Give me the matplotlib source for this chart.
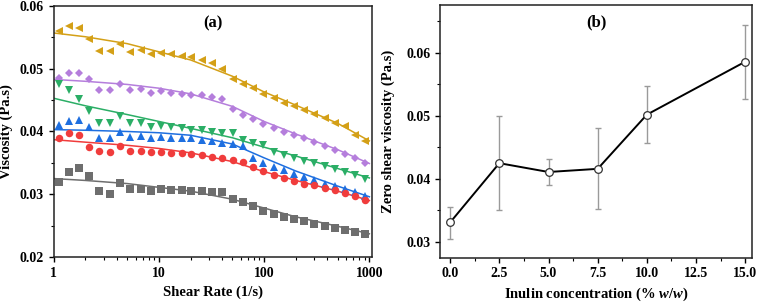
import matplotlib
matplotlib.use("Agg")
import matplotlib.pyplot as plt
from matplotlib.ticker import MultipleLocator, LogLocator, NullFormatter, FixedLocator

plt.rcParams['font.family'] = ['Liberation Serif', 'DejaVu Serif']
plt.rcParams['font.weight'] = 'bold'
plt.rcParams['mathtext.fontset'] = 'custom'
plt.rcParams['mathtext.it'] = 'Liberation Serif:italic:bold'
plt.rcParams['mathtext.rm'] = 'Liberation Serif:bold'

# ---------------- Panel (a) data ----------------
shear_rate = [1.12, 1.41, 1.75, 2.18, 2.72, 3.44, 4.28, 5.37, 6.75, 8.39,
              10.5, 13.1, 16.4, 20.4, 25.5, 32.0, 40.1, 50.7, 63.1, 78.5,
              98.4, 123, 154, 191, 240, 301, 375, 468, 586, 730, 916]

visc_gold = [0.0560, 0.0568, 0.0565, 0.0547, 0.0528, 0.0528, 0.0539, 0.0527, 0.0530, 0.0524,
             0.0525, 0.0524, 0.0520, 0.0518, 0.0514, 0.0509, 0.0499, 0.0484, 0.0476, 0.0469,
             0.0460, 0.0454, 0.0445, 0.0440, 0.0434, 0.0428, 0.0422, 0.0413, 0.0409, 0.0395, 0.0385]
visc_purple = [0.0486, 0.0493, 0.0494, 0.0483, 0.0466, 0.0466, 0.0475, 0.0466, 0.0467, 0.0461,
               0.0464, 0.0462, 0.0460, 0.0458, 0.0458, 0.0455, 0.0452, 0.0436, 0.0427, 0.0420,
               0.0412, 0.0406, 0.0399, 0.0394, 0.0389, 0.0383, 0.0377, 0.0371, 0.0364, 0.0358, 0.0350]
visc_green = [0.0475, 0.0466, 0.0452, 0.0432, 0.0413, 0.0413, 0.0424, 0.0414, 0.0414, 0.0407,
              0.0409, 0.0407, 0.0405, 0.0403, 0.0402, 0.0399, 0.0398, 0.0397, 0.0386, 0.0381,
              0.0378, 0.0367, 0.0362, 0.0357, 0.0353, 0.0349, 0.0345, 0.0340, 0.0336, 0.0331, 0.0325]
visc_blue = [0.0411, 0.0417, 0.0418, 0.0407, 0.0390, 0.0389, 0.0399, 0.0391, 0.0393, 0.0390,
             0.0391, 0.0390, 0.0389, 0.0389, 0.0387, 0.0385, 0.0381, 0.0380, 0.0377, 0.0357,
             0.0350, 0.0344, 0.0338, 0.0333, 0.0327, 0.0322, 0.0317, 0.0313, 0.0309, 0.0303, 0.0297]
visc_red = [0.0390, 0.0397, 0.0395, 0.0375, 0.0369, 0.0367, 0.0377, 0.0369, 0.0369, 0.0367,
            0.0368, 0.0366, 0.0365, 0.0364, 0.0363, 0.0360, 0.0357, 0.0354, 0.0352, 0.0344,
            0.0337, 0.0331, 0.0326, 0.0321, 0.0317, 0.0314, 0.0310, 0.0306, 0.0302, 0.0297, 0.0291]
visc_gray = [0.0320, 0.0336, 0.0342, 0.0329, 0.0305, 0.0301, 0.0318, 0.0309, 0.0309, 0.0305,
             0.0308, 0.0307, 0.0306, 0.0305, 0.0305, 0.0304, 0.0303, 0.0292, 0.0287, 0.0281,
             0.0274, 0.0269, 0.0264, 0.0261, 0.0257, 0.0253, 0.0250, 0.0247, 0.0243, 0.0240, 0.0236]

# fitted model curves
fit_x = [1, 2, 5, 10, 20, 50, 100, 200, 500, 1000]
fit_gold = [0.0557, 0.0551, 0.0540, 0.0527, 0.0514, 0.0488, 0.0463, 0.0442, 0.0413, 0.0385]
fit_purple = [0.0483, 0.0480, 0.0475, 0.0469, 0.0460, 0.0440, 0.0416, 0.0396, 0.0371, 0.0349]
fit_green = [0.0453, 0.0441, 0.0427, 0.0416, 0.0405, 0.0390, 0.0375, 0.0361, 0.0341, 0.0326]
fit_blue = [0.0403, 0.0402, 0.0400, 0.0398, 0.0394, 0.0380, 0.0358, 0.0337, 0.0313, 0.0296]
fit_red = [0.0387, 0.0383, 0.0378, 0.0373, 0.0366, 0.0352, 0.0336, 0.0322, 0.0305, 0.0290]
fit_gray = [0.0325, 0.0322, 0.0317, 0.0311, 0.0305, 0.0292, 0.0278, 0.0264, 0.0249, 0.0237]

# ---------------- Panel (b) data ----------------
inulin = [0.0, 2.5, 5.0, 7.5, 10.0, 15.0]
zero_visc = [0.0331, 0.0425, 0.0411, 0.0416, 0.0502, 0.0586]
err_low = [0.0026, 0.0075, 0.0020, 0.0063, 0.0045, 0.0059]
err_high = [0.0024, 0.0075, 0.0020, 0.0065, 0.0045, 0.0059]

fig = plt.figure(figsize=(7.58, 3.04), dpi=100)
ax1 = fig.add_axes([0.0708, 0.1546, 0.4200, 0.8257])
ax2 = fig.add_axes([0.5809, 0.1523, 0.4108, 0.8313])

series = [
    (visc_gold, fit_gold, '#D4A017', '<'),
    (visc_purple, fit_purple, '#B57EDC', 'D'),
    (visc_green, fit_green, '#2BAE66', 'v'),
    (visc_blue, fit_blue, '#1E6FE0', '^'),
    (visc_red, fit_red, '#F03C3C', 'o'),
    (visc_gray, fit_gray, '#6E6E6E', 's'),
]
for vals, fit, col, mk in series:
    ax1.plot(fit_x, fit, color=col, lw=1.1, zorder=2)
    ms = 4.4 if mk == 'D' else 5.4
    ax1.plot(shear_rate, vals, linestyle='none', marker=mk, color=col,
             markersize=ms, markeredgewidth=0, zorder=3)

ax1.set_xscale('log')
ax1.set_xlim(1, 1060)
ax1.set_ylim(0.02, 0.06)
ax1.xaxis.set_major_locator(FixedLocator([1, 10, 100, 1000]))
ax1.set_xticklabels(['1', '10', '100', '1000'])
ax1.xaxis.set_minor_locator(LogLocator(base=10, subs=range(2, 10)))
ax1.xaxis.set_minor_formatter(NullFormatter())
ax1.set_yticks([0.02, 0.03, 0.04, 0.05, 0.06])
ax1.set_yticklabels(['0.02', '0.03', '0.04', '0.05', '0.06'])
ax1.yaxis.set_minor_locator(MultipleLocator(0.005))
ax1.set_xlabel('Shear Rate (1/s)', fontsize=10.5, fontweight='bold', labelpad=4)
ax1.set_ylabel('Viscosity (Pa.s)', fontsize=10.5, fontweight='bold')
ax1.yaxis.set_label_coords(-0.128, 0.5)
ax1.text(0.5, 0.93, '(a)', transform=ax1.transAxes, ha='center', va='center',
         fontsize=12, fontweight='bold')

ax2.errorbar(inulin, zero_visc, yerr=[err_low, err_high], fmt='none',
             ecolor='#9A9A9A', elinewidth=1.0, capsize=2.5, capthick=1.0, zorder=2)
ax2.plot(inulin, zero_visc, color='black', lw=1.4, marker='o', markersize=5.5,
         markerfacecolor='white', markeredgecolor='#333333', markeredgewidth=0.9, zorder=3)
ax2.set_xlim(-0.5, 15.33)
ax2.set_ylim(0.0275, 0.0676)
ax2.set_xticks([0, 2.5, 5, 7.5, 10, 12.5, 15])
ax2.set_xticklabels(['0.0', '2.5', '5.0', '7.5', '10.0', '12.5', '15.0'])
ax2.xaxis.set_minor_locator(MultipleLocator(1.25))
ax2.set_yticks([0.03, 0.04, 0.05, 0.06])
ax2.set_yticklabels(['0.03', '0.04', '0.05', '0.06'])
ax2.yaxis.set_minor_locator(MultipleLocator(0.005))
ax2.set_xlabel('Inulin concentration (% $\\mathit{w/w}$)', fontsize=10.5,
               fontweight='bold', labelpad=4)
ax2.set_ylabel('Zero shear viscosity (Pa.s)', fontsize=10.5, fontweight='bold', labelpad=8)
ax2.text(0.5, 0.93, '(b)', transform=ax2.transAxes, ha='center', va='center',
         fontsize=12, fontweight='bold')

for ax in (ax1, ax2):
    for s in ax.spines.values():
        s.set_linewidth(1.1)
        s.set_color('#222222')
    ax.tick_params(which='major', direction='out', length=3.5, width=1.0,
                   labelsize=10, top=False, right=False)
    ax.tick_params(which='minor', direction='out', length=2, width=0.8,
                   top=False, right=False)
    for lab in ax.get_xticklabels() + ax.get_yticklabels():
        lab.set_fontweight('bold')

fig.savefig('out.png', dpi=100)
